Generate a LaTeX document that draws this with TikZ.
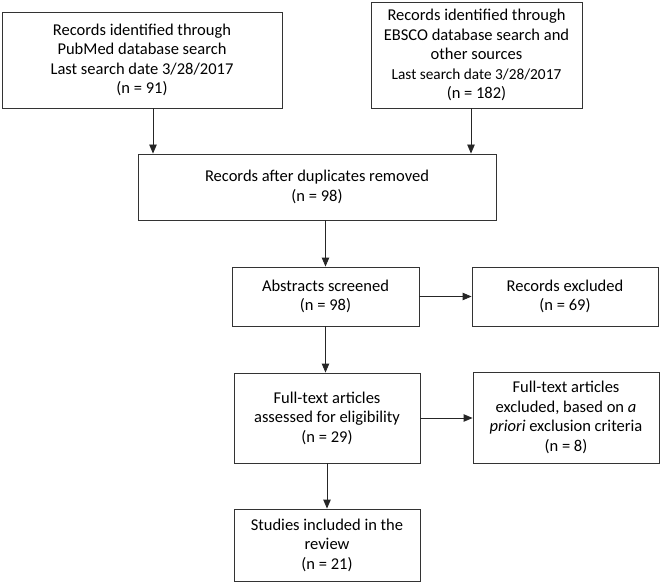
\documentclass[tikz,border=0pt]{standalone}
\usepackage{fontspec}
\setmainfont{Carlito}
\usetikzlibrary{arrows.meta}
\begin{document}
\begin{tikzpicture}[x=1pt,y=-1pt,
  box/.style={draw=black!80,line width=0.9pt,align=center,inner sep=0pt,
    font=\fontsize{16.5}{19.5}\selectfont},
  arr/.style={draw=black!85,line width=0.9pt,-{Triangle[length=9pt,width=7.5pt]}}]
\useasboundingbox (0,0) rectangle (662,583);
\node[box,minimum width=280pt,minimum height=96pt] (b1) at (142,60)
  {Records identified through\\PubMed database search\\Last search date 3/28/2017\\(n = 91)};
\node[box,minimum width=211pt,minimum height=106pt] (b2) at (476.5,55)
  {Records identified through\\EBSCO database search and\\other sources\\{\fontsize{15.3}{19.5}\selectfont Last search date 3/28/2017}\\(n = 182)};
\node[box,minimum width=358pt,minimum height=66pt] (b3) at (317,187)
  {Records after duplicates removed\\(n = 98)};
\node[box,minimum width=187pt,minimum height=59pt] (b4) at (325.5,296.5)
  {Abstracts screened\\(n = 98)};
\node[box,minimum width=186pt,minimum height=59pt] (b5) at (565,296.5)
  {Records excluded\\(n = 69)};
\node[box,minimum width=186pt,minimum height=90pt] (b6) at (327,418)
  {Full-text articles\\assessed for eligibility\\(n = 29)};
\node[box,minimum width=186pt,minimum height=91pt] (b7) at (566,417.5)
  {Full-text articles\\excluded, based on \emph{a}\\\emph{priori} exclusion criteria\\(n = 8)};
\node[box,minimum width=186pt,minimum height=72pt] (b8) at (327,545)
  {Studies included in the\\review\\(n = 21)};
\draw[arr] ([xshift=11pt]b1.south) -- ([xshift=11pt]b1.south |- b3.north);
\draw[arr] ([xshift=-5.5pt]b2.south) -- ([xshift=-5.5pt]b2.south |- b3.north);
\draw[arr] (b4.north |- b3.south) -- (b4.north);
\draw[arr] (b4.east) -- (b5.west);
\draw[arr] (b4.south) -- (b4.south |- b6.north);
\draw[arr] (b6.east) -- (b6.east -| b7.west);
\draw[arr] (b6.south) -- (b8.north);
\end{tikzpicture}
\end{document}
